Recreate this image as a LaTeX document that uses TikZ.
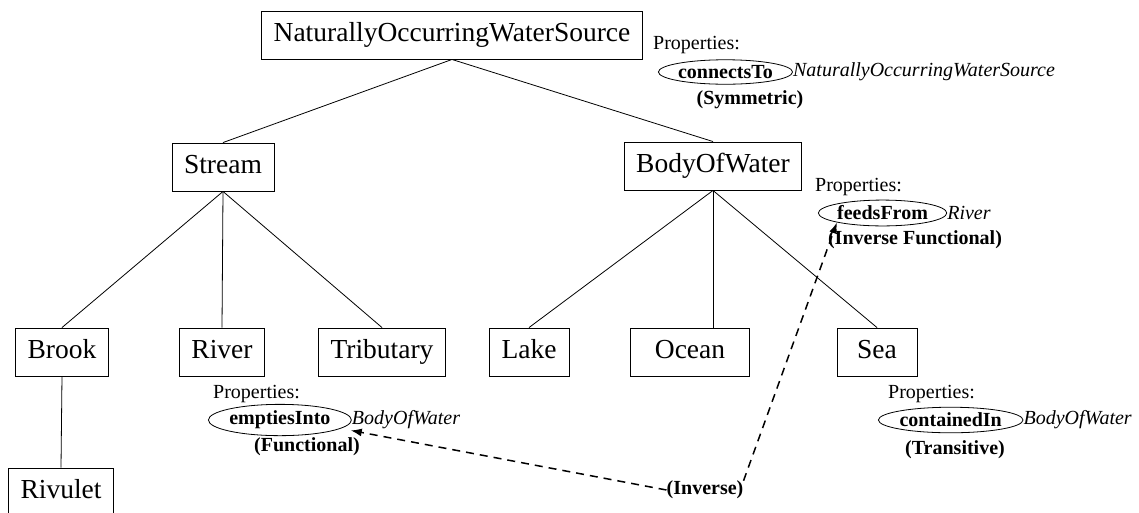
\documentclass[tikz,border=0pt]{standalone}
\usepackage{fontspec}
\setmainfont{Liberation Serif}
\usetikzlibrary{shapes.geometric,positioning,arrows.meta}
\newcommand{\boxfont}{\fontsize{27.5}{30}\selectfont}
\newcommand{\propfont}{\fontsize{20}{22}\selectfont}

\begin{document}
\begin{tikzpicture}[x=1pt, y=-1pt,
        cls/.style={draw, line width=0.9pt, font=\boxfont, minimum height=48pt, minimum width=80pt, inner xsep=12pt,
            text height=19pt, text depth=6pt},
        tree/.style={line width=0.8pt},
        proplabel/.style={anchor=west, inner sep=0pt, font=\propfont},
        propname/.style={ellipse, draw, line width=0.8pt, anchor=west, inner xsep=0pt, inner ysep=2pt, font=\propfont\bfseries},
        proprange/.style={right=-1pt of #1, inner sep=1pt, font=\propfont\itshape},
        propkind/.style={inner sep=0pt, font=\propfont\bfseries},
        inverse/.style={-{Latex[length=11pt, width=8pt]}, line width=1.5pt, dash pattern=on 8pt off 6pt}]

        \useasboundingbox (0, 0) rectangle (1139, 512);

        % Classes
        \node[cls] (top) at (452, 35) {NaturallyOccurringWaterSource};

        \node[cls] (stream) at (223, 167) {Stream};
        \node[cls] (body) at (713, 166) {BodyOfWater};

        \node[cls] (brook) at (62, 352) {Brook};
        \node[cls] (river) at (222, 352) {River};
        \node[cls] (trib) at (382, 352) {Tributary};
        \node[cls] (lake) at (529, 352) {Lake};
        \node[cls, minimum width=119pt] (ocean) at (690, 352) {Ocean};
        \node[cls] (sea) at (877, 352) {Sea};

        \node[cls] (rivulet) at (61, 492) {Rivulet};

        % Subclass lines
        \draw[tree] (top.south) -- (stream.north);
        \draw[tree] (top.south) -- (body.north);

        \draw[tree] (stream.south) -- (brook.north);
        \draw[tree] (stream.south) -- (river.north);
        \draw[tree] (stream.south) -- (trib.north);

        \draw[tree] (body.south) -- (lake.north);
        \draw[tree] (body.south) -- (body.south |- ocean.north);
        \draw[tree] (body.south) -- (sea.north);

        \draw[tree] (brook.south) -- (rivulet.north);

        % Properties of NaturallyOccurringWaterSource
        \node[proplabel] (pA) at (653, 45) {Properties:};
        \node[propname] (cA) at (658, 72) {connectsTo};
        \node[proprange=cA] (rA) {NaturallyOccurringWaterSource};
        \node[propkind] (kA) at (750, 100) {(Symmetric)};

        % Properties of BodyOfWater
        \node[proplabel] (pB) at (815, 187) {Properties:};
        \node[propname] (cB) at (818, 213) {feedsFrom};
        \node[proprange=cB] (rB) {River};
        \node[propkind] (kB) at (915, 240) {(Inverse Functional)};

        % Properties of River
        \node[proplabel] (pC) at (213, 394) {Properties:};
        \node[propname] (cC) at (208, 420) {emptiesInto};
        \node[proprange=cC] (rC) {BodyOfWater};
        \node[propkind] (kC) at (307, 447) {(Functional)};

        % Properties of Sea
        \node[proplabel] (pD) at (888, 394) {Properties:};
        \node[propname] (cD) at (878, 420) {containedIn};
        \node[proprange=cD] (rD) {BodyOfWater};
        \node[propkind] (kD) at (955, 450) {(Transitive)};

        % Inverse pair
        \node[propkind] (inv) at (705, 490) {(Inverse)};
        \draw[inverse] (inv.west) -- (rC.south west);
        \draw[inverse] (inv.north east) -- (cB.south west);
    \end{tikzpicture}
\end{document}
